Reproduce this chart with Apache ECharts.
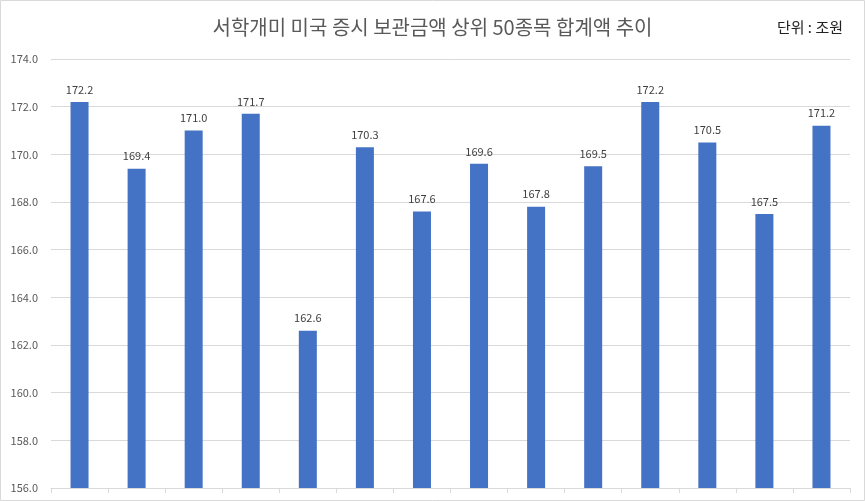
<!DOCTYPE html>
<html>
<head>
<meta charset="utf-8">
<script src="https://cdn.jsdelivr.net/npm/echarts@6/dist/echarts.min.js"></script>
<style>
  html, body { margin: 0; padding: 0; background: #fff; }
  #chart { width: 865px; height: 501px; }
</style>
</head>
<body>
<div id="chart"></div>
<script>
// 보관금액 상위 50종목 합계액 (조원)
var categories = ['1', '2', '3', '4', '5', '6', '7', '8', '9', '10', '11', '12', '13', '14'];
var totals = [172.2, 169.4, 171.0, 171.7, 162.6, 170.3, 167.6, 169.6, 167.8, 169.5, 172.2, 170.5, 167.5, 171.2];
var titleText = '서학개미 미국 증시 보관금액 상위 50종목 합계액 추이';
var unitText = '단위 : 조원';

var font = '"Noto Sans CJK KR", "Noto Sans", sans-serif';
var myChart = echarts.init(document.getElementById('chart'));

var option = {
  backgroundColor: '#fff',
  animation: false,
  title: {
    text: titleText,
    left: 'center',
    top: 12,
    textStyle: { fontFamily: font, fontSize: 20, fontWeight: 'normal', color: '#595959' }
  },
  graphic: [
    {
      type: 'text',
      right: 22,
      top: 20,
      style: { text: unitText, font: '15px ' + font, fill: '#222' }
    },
    {
      type: 'rect',
      shape: { x: 0.5, y: 0.5, width: 864, height: 500 },
      style: { fill: 'none', stroke: '#d9d9d9', lineWidth: 1 }
    }
  ],
  grid: { left: 51, right: 15, top: 59, bottom: 13 },
  xAxis: {
    type: 'category',
    data: categories,
    axisLine: { lineStyle: { color: '#d9d9d9' } },
    axisTick: { show: true, length: 5, lineStyle: { color: '#d9d9d9' } },
    axisLabel: { show: false }
  },
  yAxis: {
    type: 'value',
    min: 156,
    max: 174,
    interval: 2,
    axisLine: { show: false },
    axisTick: { show: false },
    axisLabel: {
      formatter: function (v) { return v.toFixed(1); },
      fontFamily: font, fontSize: 11, color: '#595959', margin: 13
    },
    splitLine: { lineStyle: { color: '#d9d9d9' } }
  },
  series: [{
    type: 'bar',
    data: totals,
    barWidth: 18,
    itemStyle: { color: '#4472c4' },
    label: {
      show: true,
      position: 'top',
      distance: 7,
      formatter: function (p) { return p.value.toFixed(1); },
      fontFamily: font, fontSize: 11, color: '#404040'
    }
  }]
};
myChart.setOption(option);
</script>
</body>
</html>
